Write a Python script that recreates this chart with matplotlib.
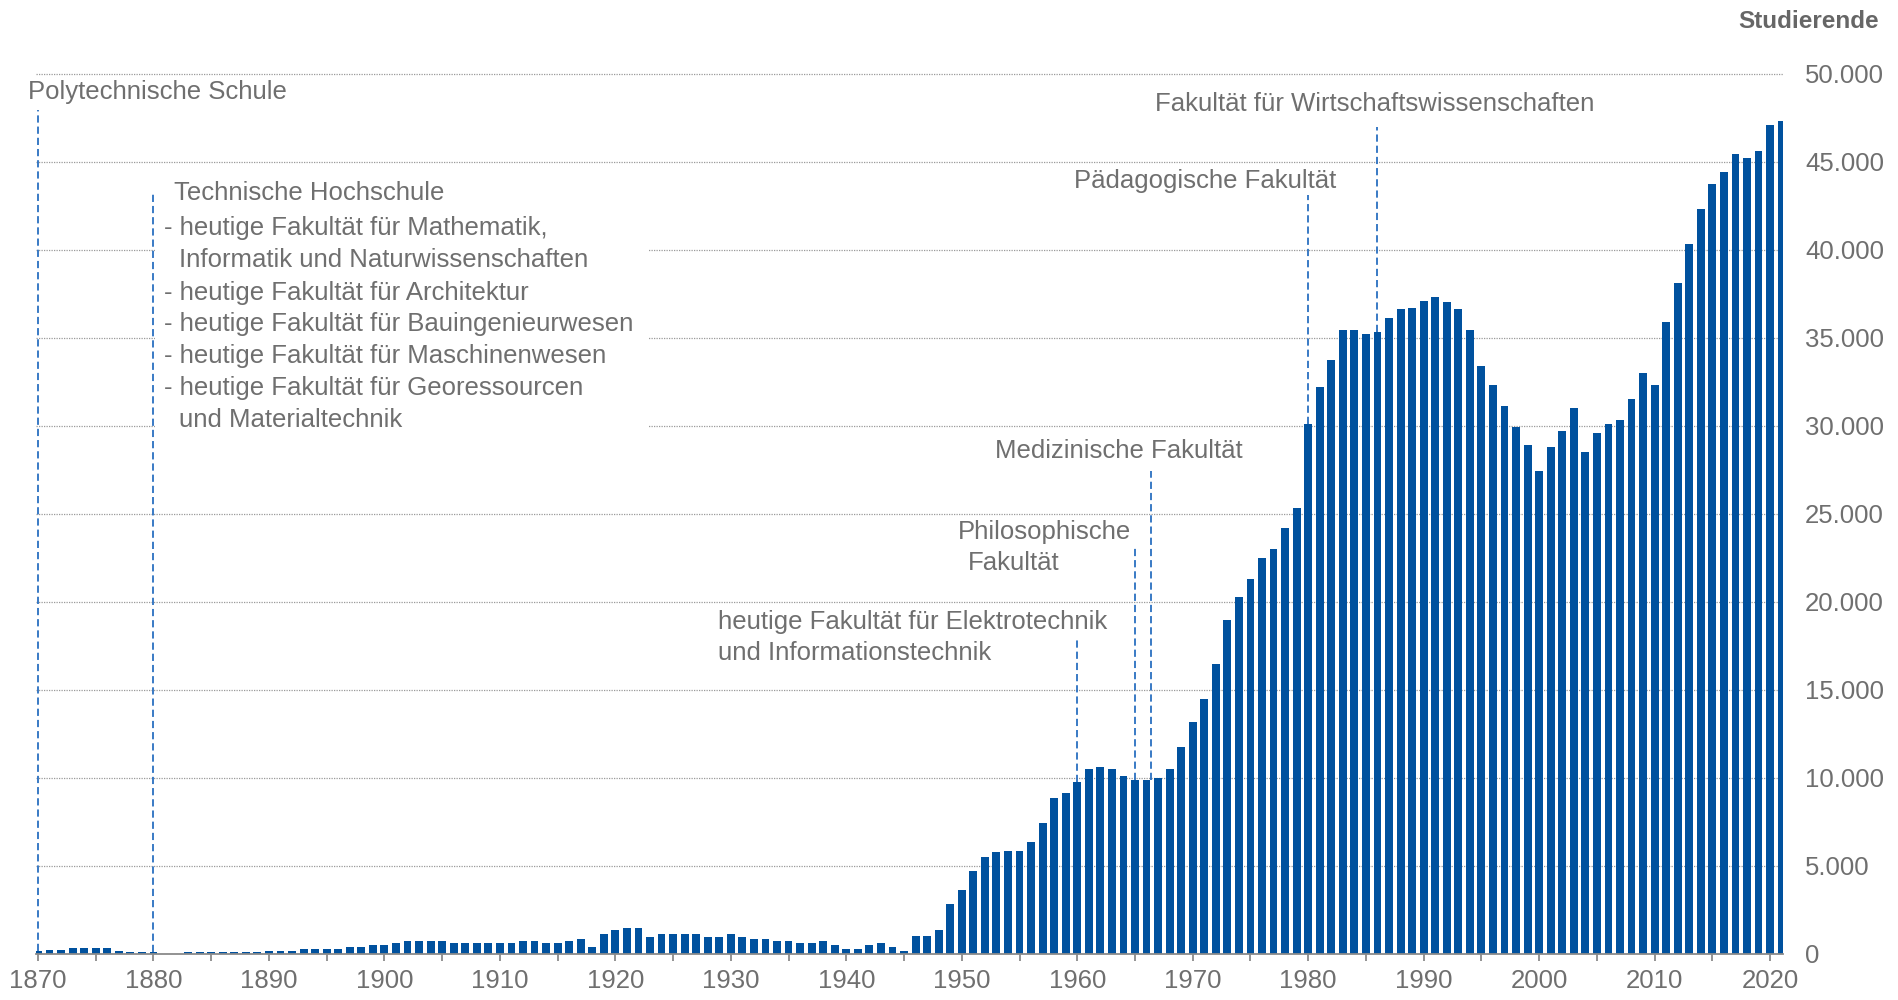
import matplotlib.pyplot as plt
from matplotlib.ticker import MultipleLocator, FuncFormatter
from matplotlib.patches import Rectangle

plt.rcParams['font.family'] = ['Liberation Sans', 'DejaVu Sans']

# Studierende je Jahr, 1870 - 2021
years = list(range(1870, 2022))
students_1870_1909 = [
    130, 190, 190, 300, 300, 300, 300, 170, 100, 100,
    100, 0, 0, 100, 100, 100, 100, 100, 110, 110,
    120, 120, 130, 250, 250, 250, 250, 360, 360, 490,
    490, 600, 720, 720, 720, 720, 600, 600, 600, 600,
]
students_1910_1949 = [
    600, 600, 720, 720, 600, 600, 720, 830, 360, 1080,
    1330, 1440, 1440, 950, 1080, 1080, 1080, 1080, 950, 950,
    1080, 950, 830, 830, 720, 720, 600, 600, 720, 470,
    250, 250, 470, 600, 360, 130, 980, 980, 1350, 2800,
]
students_1950_1989 = [
    3600, 4670, 5480, 5750, 5840, 5840, 6310, 7390, 8820, 9140,
    9760, 10460, 10570, 10460, 10080, 9870, 9870, 9950, 10460, 11740,
    13150, 14470, 16450, 18960, 20260, 21300, 22500, 23000, 24200, 25300,
    30100, 32200, 33700, 35400, 35400, 35200, 35300, 36100, 36600, 36700,
]
students_1990_2021 = [
    37100, 37300, 37000, 36600, 35400, 33400, 32300, 31100, 29900, 28900,
    27400, 28800, 29700, 31000, 28500, 29600, 30100, 30300, 31500, 33000,
    32300, 35900, 38100, 40300, 42300, 43700, 44400, 45400, 45200, 45600,
    47100, 47300,
]
students = students_1870_1909 + students_1910_1949 + students_1950_1989 + students_1990_2021

# Gruendungen: Jahr der gestrichelten Linie und deren oberes Ende
event_years = [1870, 1880, 1960, 1965, 1966.4, 1980, 1986]
event_tops = [47900, 43260, 18000, 23200, 27400, 43070, 46950]

# Beschriftungen: (x, y, text)
labels = [
    (1869.16, 48970, "Polytechnische Schule"),
    (1881.75, 43190, "Technische Hochschule"),
    (1880.9, 41200, "- heutige Fakultät für Mathematik,"),
    (1882.17, 39400, "Informatik und Naturwissenschaften"),
    (1880.9, 37550, "- heutige Fakultät für Architektur"),
    (1880.9, 35760, "- heutige Fakultät für Bauingenieurwesen"),
    (1880.9, 33970, "- heutige Fakultät für Maschinenwesen"),
    (1880.9, 32120, "- heutige Fakultät für Georessourcen"),
    (1882.17, 30330, "und Materialtechnik"),
    (1966.7, 48280, "Fakultät für Wirtschaftswissenschaften"),
    (1959.7, 43880, "Pädagogische Fakultät"),
    (1952.9, 28540, "Medizinische Fakultät"),
    (1949.7, 23930, "Philosophische"),
    (1950.5, 22200, "Fakultät"),
    (1928.85, 18850, "heutige Fakultät für Elektrotechnik"),
    (1928.85, 17060, "und Informationstechnik"),
]

BAR = '#00519e'
LINE = '#2a6fc0'
TEXT = '#6f6f6f'
GRID = '#9a9a9a'
FS = 18.5

fig = plt.figure(figsize=(18.98, 10), dpi=100)
ax = fig.add_axes([0.0188, 0.0465, 0.9205, 0.9152])

ax.bar(years, students, width=0.68, color=BAR, linewidth=0, zorder=3)

for yr, top in zip(event_years, event_tops):
    base = students[years.index(int(round(yr)))]
    ax.vlines(yr, base, top, colors=LINE, linestyles=(0, (4, 2.2)),
              linewidth=1.3, zorder=2)

# text block of the Technische Hochschule hides the grid lines behind it
ax.add_patch(Rectangle((1880.15, 28000), 1922.9 - 1880.15, 16000,
                       facecolor='white', edgecolor='none', zorder=1))

for x, y, s in labels:
    ax.text(x, y, s, ha='left', va='center', fontsize=FS, color=TEXT, zorder=4)

ax.set_xlim(1869.8, 2021.1)
ax.set_ylim(0, 52000)

ax.set_axisbelow(True)
ax.set_yticks(range(0, 50001, 5000))
ax.yaxis.set_major_formatter(FuncFormatter(lambda v, _: f'{int(v):,}'.replace(',', '.')))
ax.yaxis.tick_right()
ax.grid(axis='y', color=GRID, linestyle=(0, (1, 1)), linewidth=0.9)
ax.tick_params(axis='y', length=0, pad=16, labelsize=FS, labelcolor=TEXT)

ax.xaxis.set_major_locator(MultipleLocator(10))
ax.xaxis.set_minor_locator(MultipleLocator(5))
ax.tick_params(axis='x', which='both', length=5, width=1.3, color='#8a8a8a',
               labelsize=FS, labelcolor=TEXT, pad=6)

for side in ['top', 'left', 'right']:
    ax.spines[side].set_visible(False)
ax.spines['bottom'].set_color('#8a8a8a')
ax.spines['bottom'].set_linewidth(1.3)
ax.spines['bottom'].set_zorder(5)

fig.text(0.99, 0.978, 'Studierende', ha='right', va='center', fontsize=17.5,
         fontweight='bold', color='#666666')

fig.savefig('out.png', dpi=100, facecolor='white')
